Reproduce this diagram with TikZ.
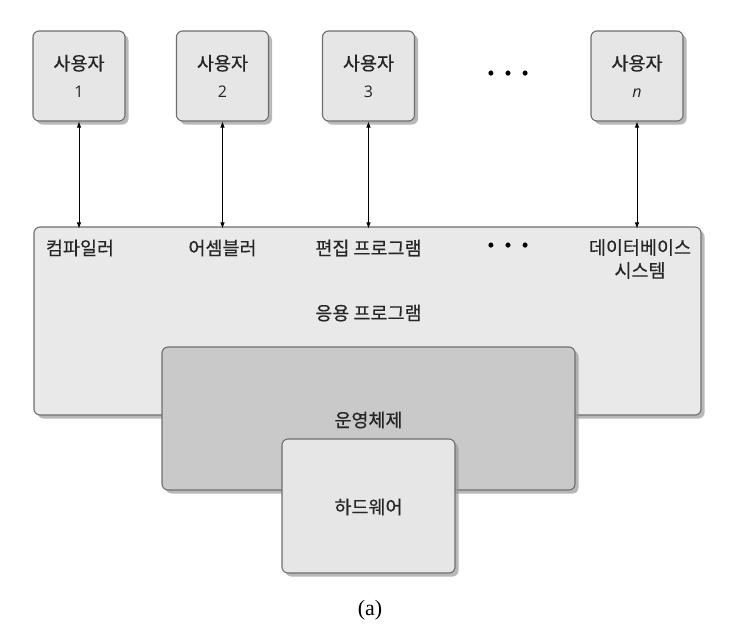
\documentclass[tikz,border=0pt]{standalone}
\usepackage{fontspec}
\setmainfont{Noto Sans CJK KR}[FakeBold=0.5]
\newfontfamily\latinsans{Open Sans}
\newfontfamily\capserif{Liberation Serif}
\usetikzlibrary{arrows.meta,shadows}
\definecolor{edgegray}{HTML}{6E6E6E}
\definecolor{lightfill}{HTML}{E6E6E6}
\definecolor{appfill}{HTML}{E9E9E9}
\definecolor{osfill}{HTML}{C9C9C9}
\definecolor{shadowgray}{HTML}{9A9A9A}
\tikzset{
  boxbase/.style={draw=edgegray, line width=1.1pt, rounded corners=6pt,
    drop shadow={shadow xshift=3.5pt, shadow yshift=-3.5pt, fill=shadowgray, opacity=0.7},
    inner sep=0pt, align=center},
  userbox/.style={boxbase, fill=lightfill, minimum width=92pt, minimum height=90pt},
  lbl/.style={inner sep=0pt, font=\fontsize{18.5}{22}\selectfont, text=black!85},
  link/.style={line width=0.8pt, {Latex[length=6pt,width=4.5pt]}-{Latex[length=6pt,width=4.5pt]}},
  dotsstyle/.style={inner sep=0pt, font=\fontsize{22}{22}\selectfont\bfseries}
}
\begin{document}
\begin{tikzpicture}[x=1pt,y=-1pt]
\useasboundingbox[fill=white] (0,0) rectangle (750,641);
% users
\node[userbox, font=\fontsize{18.5}{27}\selectfont, text=black!85] (u1) at (79,76) {사용자\\{\latinsans\fontsize{16}{27}\selectfont 1}};
\node[userbox, font=\fontsize{18.5}{27}\selectfont, text=black!85] (u2) at (222.5,76) {사용자\\{\latinsans\fontsize{16}{27}\selectfont 2}};
\node[userbox, font=\fontsize{18.5}{27}\selectfont, text=black!85] (u3) at (368.5,76) {사용자\\{\latinsans\fontsize{16}{27}\selectfont 3}};
\node[userbox, font=\fontsize{18.5}{27}\selectfont, text=black!85] (un) at (637,76) {사용자\\{\latinsans\itshape\fontsize{16}{27}\selectfont n}};
\node[dotsstyle] (dtop) at (508,76) {·\,·\,·};
% application box
\node[boxbase, fill=appfill, minimum width=667pt, minimum height=188pt] (app) at (367.5,321) {};
\node[lbl] (comp) at (80,248) {컴파일러};
\node[lbl] (asm) at (222.5,248) {어셈블러};
\node[lbl] (edit) at (368.5,248) {편집 프로그램};
\node[dotsstyle] (dmid) at (508,248) {·\,·\,·};
\node[lbl, align=center, font=\fontsize{18.5}{23}\selectfont] (db) at (640,259) {데이터베이스\\시스템};
\node[lbl] (apptxt) at (368.5,313) {응용 프로그램};
% operating system
\node[boxbase, fill=osfill, minimum width=413pt, minimum height=143pt] (os) at (368.5,418.5) {};
\node[lbl] (ostxt) at (368.5,420) {운영체제};
% hardware
\node[boxbase, fill=lightfill, minimum width=173pt, minimum height=134pt] (hw) at (368.5,506) {};
\node[lbl] (hwtxt) at (368.5,507) {하드웨어};
% caption
\node[inner sep=0pt, font=\capserif\fontsize{22}{24}\selectfont] (cap) at (370,610) {(a)};
% links
\draw[link] (u1.south) -- ([yshift=-2pt]u1.south |- app.north);
\draw[link] (u2.south) -- ([yshift=-2pt]u2.south |- app.north);
\draw[link] (u3.south) -- ([yshift=-2pt]u3.south |- app.north);
\draw[link] (un.south) -- ([yshift=-2pt]un.south |- app.north);
\end{tikzpicture}
\end{document}
